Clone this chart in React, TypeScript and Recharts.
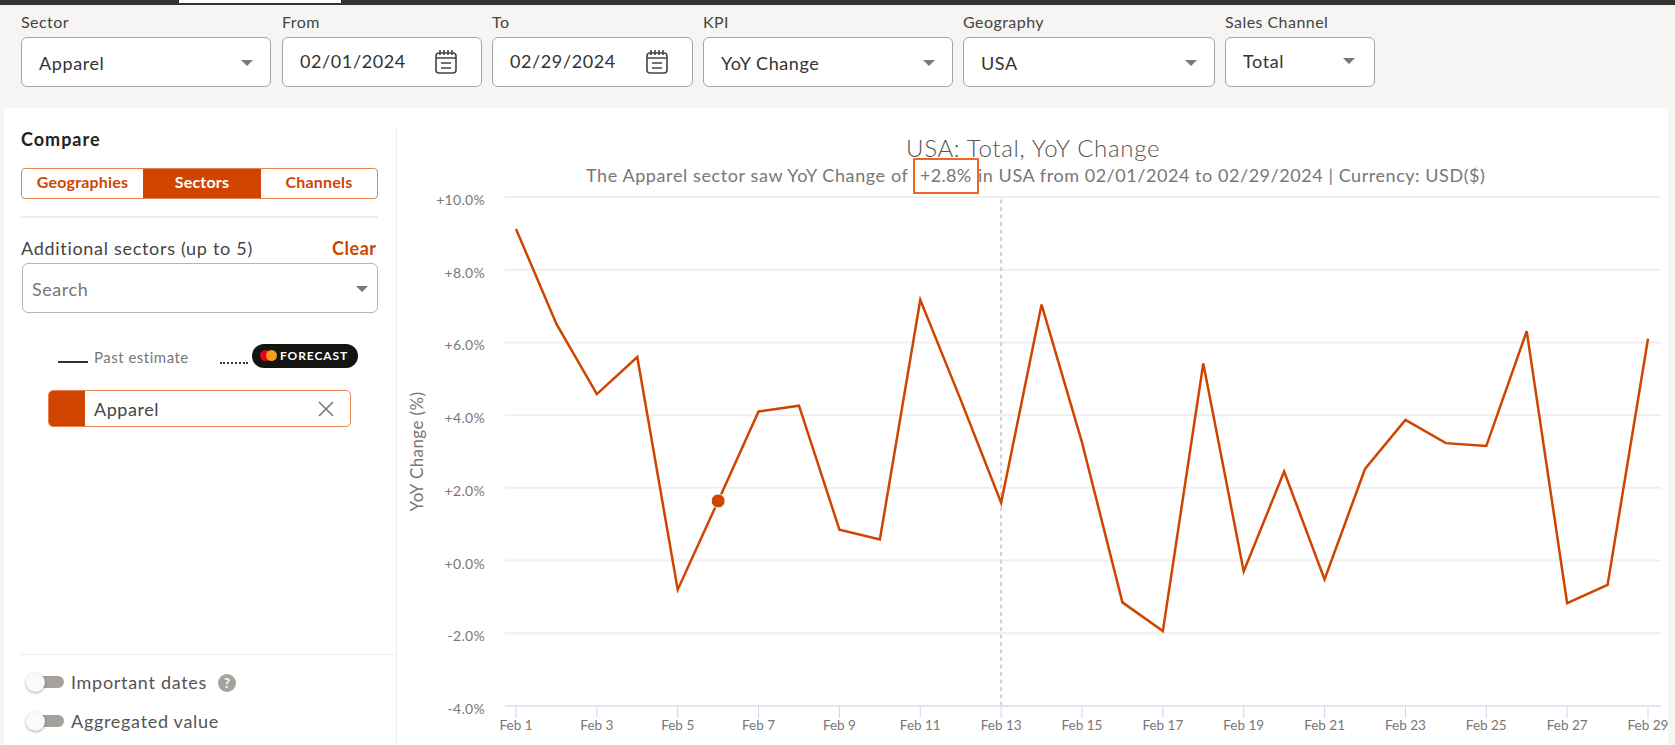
import { CartesianGrid, Line, LineChart, ReferenceDot, ReferenceLine, XAxis, YAxis } from 'recharts'

const FONT = 'Lato, "Open Sans", sans-serif'
const ACCENT = '#cf4500'

const days = [
  'Feb 1', 'Feb 2', 'Feb 3', 'Feb 4', 'Feb 5', 'Feb 6', 'Feb 7', 'Feb 8', 'Feb 9', 'Feb 10',
  'Feb 11', 'Feb 12', 'Feb 13', 'Feb 14', 'Feb 15', 'Feb 16', 'Feb 17', 'Feb 18', 'Feb 19', 'Feb 20',
  'Feb 21', 'Feb 22', 'Feb 23', 'Feb 24', 'Feb 25', 'Feb 26', 'Feb 27', 'Feb 28', 'Feb 29',
]
const yoyChange = [
  9.12, 6.51, 4.58, 5.6, -0.8, 1.64, 4.1, 4.26, 0.85, 0.58,
  7.17, 4.42, 1.59, 7.04, 3.25, -1.15, -1.94, 5.42, -0.3, 2.45,
  -0.52, 2.52, 3.87, 3.23, 3.15, 6.31, -1.17, -0.67, 6.1,
]
const yTicks = [-4, -2, 0, 2, 4, 6, 8, 10]
const filters = [
  { label: 'Sector', value: 'Apparel', x: 21, w: 250, kind: 'select' },
  { label: 'From', value: '02/01/2024', x: 282, w: 200, kind: 'date' },
  { label: 'To', value: '02/29/2024', x: 492, w: 201, kind: 'date' },
  { label: 'KPI', value: 'YoY Change', x: 703, w: 250, kind: 'select' },
  { label: 'Geography', value: 'USA', x: 963, w: 252, kind: 'select' },
  { label: 'Sales Channel', value: 'Total', x: 1225, w: 150, kind: 'select' },
]

const chartData = days.map((day, i) => ({ day, value: yoyChange[i] }))
const formatPct = (v: number) => `${v >= 0 ? '+' : ''}${v.toFixed(1)}%`

function Text({ x, y, size = 16, color = '#333', weight = 400, spacing = 0.55, children }: any) {
  return (
    <div style={{ position: 'absolute', left: x, top: y, fontSize: size, color, fontWeight: weight, letterSpacing: spacing, lineHeight: `${size + 4}px`, whiteSpace: 'nowrap' }}>
      {children}
    </div>
  )
}

function Caret({ x, y, color = '#777' }: any) {
  return <div style={{ position: 'absolute', left: x, top: y, width: 0, height: 0, borderLeft: '6px solid transparent', borderRight: '6px solid transparent', borderTop: `6px solid ${color}` }} />
}

function CalendarIcon({ x, y }: any) {
  return (
    <svg style={{ position: 'absolute', left: x, top: y }} width="24" height="26" viewBox="0 0 24 26" fill="none" stroke="#444" strokeWidth="1.6">
      <rect x="2" y="4" width="20" height="20" rx="3" />
      <path d="M2 9h20M6 1v5M10 1v5M14 1v5M18 1v5M7 14h10M7 19h10" />
    </svg>
  )
}

function Toggle({ y }: any) {
  return (
    <>
      <div style={{ position: 'absolute', left: 36, top: y + 3, width: 28, height: 12, borderRadius: 6, background: '#a5a19c' }} />
      <div style={{ position: 'absolute', left: 26, top: y, width: 19, height: 19, borderRadius: 10, background: '#fafafa', boxShadow: '0 1px 3px rgba(0,0,0,.35)' }} />
    </>
  )
}

export default function App() {
  return (
    <div style={{ position: 'absolute', left: 0, top: 0, width: 1675, height: 745, overflow: 'hidden', background: '#f6f5f3', fontFamily: FONT }}>
      <div style={{ position: 'absolute', left: 0, top: 0, width: 1675, height: 5, background: '#333' }} />
      <div style={{ position: 'absolute', left: 179, top: 0, width: 162, height: 3, background: '#fff' }} />

      {filters.map(f => (
        <div key={f.label}>
          <Text x={f.x} y={12} size={16} color="#444" spacing={0.45}>{f.label}</Text>
          <div style={{ position: 'absolute', left: f.x, top: 37, width: f.w, height: 50, boxSizing: 'border-box', background: '#fff', border: '1px solid #a8a5a0', borderRadius: 6 }} />
          <Text x={f.x + 18} y={f.label === 'Sales Channel' || f.kind === 'date' ? 50 : 52} size={18} color="#333" spacing={0.6}>{f.value}</Text>
          {f.kind === 'date' ? <CalendarIcon x={f.x + f.w - 48} y={49} /> : <Caret x={f.x + f.w - 46 + (f.label === 'Sales Channel' ? 14 : 16)} y={f.label === 'Sales Channel' ? 58 : 60} />}
        </div>
      ))}

      <div style={{ position: 'absolute', left: 4, top: 108, width: 1664, height: 637, background: '#fff' }} />
      <div style={{ position: 'absolute', left: 396, top: 126, width: 1, height: 619, background: '#eeeeee' }} />

      <Text x={21} y={128} size={18} color="#222" weight={700} spacing={1}>Compare</Text>
      <div style={{ position: 'absolute', left: 21, top: 168, width: 357, height: 31, boxSizing: 'border-box', border: '1px solid #e8814d', borderRadius: 4, display: 'flex', fontSize: 16, fontWeight: 700, letterSpacing: 0.2, color: ACCENT, lineHeight: '25px', textAlign: 'center' }}>
        <div style={{ width: 121 }}>Geographies</div>
        <div style={{ width: 118, background: ACCENT, color: '#fff' }}>Sectors</div>
        <div style={{ flex: 1 }}>Channels</div>
      </div>
      <div style={{ position: 'absolute', left: 21, top: 216, width: 357, height: 2, background: '#f0efed' }} />

      <Text x={21} y={237} size={18} color="#444" spacing={0.7}>Additional sectors (up to 5)</Text>
      <Text x={332} y={237} size={18} color={ACCENT} weight={700}>Clear</Text>
      <div style={{ position: 'absolute', left: 22, top: 263, width: 356, height: 50, boxSizing: 'border-box', border: '1px solid #b8b5b0', borderRadius: 6 }} />
      <Text x={32} y={278} size={18} color="#777">Search</Text>
      <Caret x={356} y={286} />

      <div style={{ position: 'absolute', left: 58, top: 361, width: 30, height: 2, background: '#333' }} />
      <Text x={94} y={348} size={15} color="#777" spacing={0.5}>Past estimate</Text>
      <div style={{ position: 'absolute', left: 220, top: 362, width: 28, height: 0, borderTop: '2px dotted #333' }} />
      <div style={{ position: 'absolute', left: 252, top: 344, width: 106, height: 24, borderRadius: 12, background: '#141413' }} />
      <div style={{ position: 'absolute', left: 260, top: 350, width: 11, height: 11, borderRadius: 6, background: '#eb001b' }} />
      <div style={{ position: 'absolute', left: 266, top: 350, width: 11, height: 11, borderRadius: 6, background: '#f79e1b' }} />
      <Text x={280} y={348} size={12} color="#fff" weight={700} spacing={0.9}>FORECAST</Text>

      <div style={{ position: 'absolute', left: 48, top: 390, width: 303, height: 37, boxSizing: 'border-box', border: '1px solid #e8814d', borderRadius: 5, overflow: 'hidden' }}>
        <div style={{ width: 36, height: '100%', background: ACCENT }} />
      </div>
      <Text x={94} y={398} size={18} color="#444">Apparel</Text>
      <svg style={{ position: 'absolute', left: 318, top: 401 }} width="16" height="16" stroke="#777" strokeWidth="1.6"><path d="M1 1l14 14M15 1L1 15" /></svg>

      <div style={{ position: 'absolute', left: 21, top: 654, width: 375, height: 1, background: '#eeecea' }} />
      <Toggle y={673} />
      <Text x={71} y={671} size={18} color="#555" spacing={0.7}>Important dates</Text>
      <div style={{ position: 'absolute', left: 218, top: 674, width: 18, height: 18, borderRadius: 9, background: '#a5a19c', color: '#fff', fontSize: 13, fontWeight: 700, textAlign: 'center', lineHeight: '18px' }}>?</div>
      <Toggle y={712} />
      <Text x={71} y={710} size={18} color="#555" spacing={0.7}>Aggregated value</Text>

      <Text x={906} y={134} size={24} color="#555" weight={300} spacing={0.7}>USA: Total, YoY Change</Text>
      <Text x={586} y={164} size={18} color="#777" spacing={0.6}>The Apparel sector saw YoY Change of</Text>
      <Text x={920} y={164} size={18} color="#777" spacing={0.3}>+2.8%</Text>
      <Text x={978} y={164} size={18} color="#777" spacing={0.55}>in USA from 02/01/2024 to 02/29/2024 | Currency: USD($)</Text>
      <div style={{ position: 'absolute', left: 913, top: 158, width: 66, height: 36, boxSizing: 'border-box', border: '2px solid #f26522' }} />

      <div style={{ position: 'absolute', left: 400, top: 180 }}>
        <LineChart
          width={1275}
          height={565}
          data={chartData}
          margin={{ top: 17, right: 14, bottom: 0, left: 0 }}
          style={{ fontFamily: FONT }}
        >
          <CartesianGrid vertical={false} stroke="#efeff0" strokeWidth={2} />
          <XAxis
            dataKey="day"
            height={39}
            interval={1}
            padding={{ left: 11, right: 13 }}
            axisLine={{ stroke: '#dfe5f2', strokeWidth: 2 }}
            tickLine={{ stroke: '#cdd8ee' }}
            tickSize={12}
            tick={{ fontSize: 13.5, fill: '#777' }}
            tickMargin={2}
          />
          <YAxis
            domain={[-4, 10]}
            ticks={yTicks}
            width={105}
            axisLine={false}
            tickLine={false}
            tickFormatter={formatPct}
            tick={{ fontSize: 14, fill: '#777', dy: 3, letterSpacing: 0.3 }}
            tickMargin={14}
            label={{ value: 'YoY Change (%)', angle: -90, position: 'insideLeft', offset: 17, style: { fontSize: 17, fill: '#777', textAnchor: 'middle', letterSpacing: 0.4 } }}
          />
          <ReferenceLine x="Feb 13" stroke="#cfcfcf" strokeDasharray="4 3.5" strokeWidth={2} />
          <Line dataKey="value" type="linear" stroke={ACCENT} strokeWidth={2.5} dot={false} activeDot={false} isAnimationActive={false} />
          <ReferenceDot x="Feb 6" y={yoyChange[5]} r={7} fill={ACCENT} stroke="#fff" strokeWidth={1} />
        </LineChart>
      </div>
    </div>
  )
}
